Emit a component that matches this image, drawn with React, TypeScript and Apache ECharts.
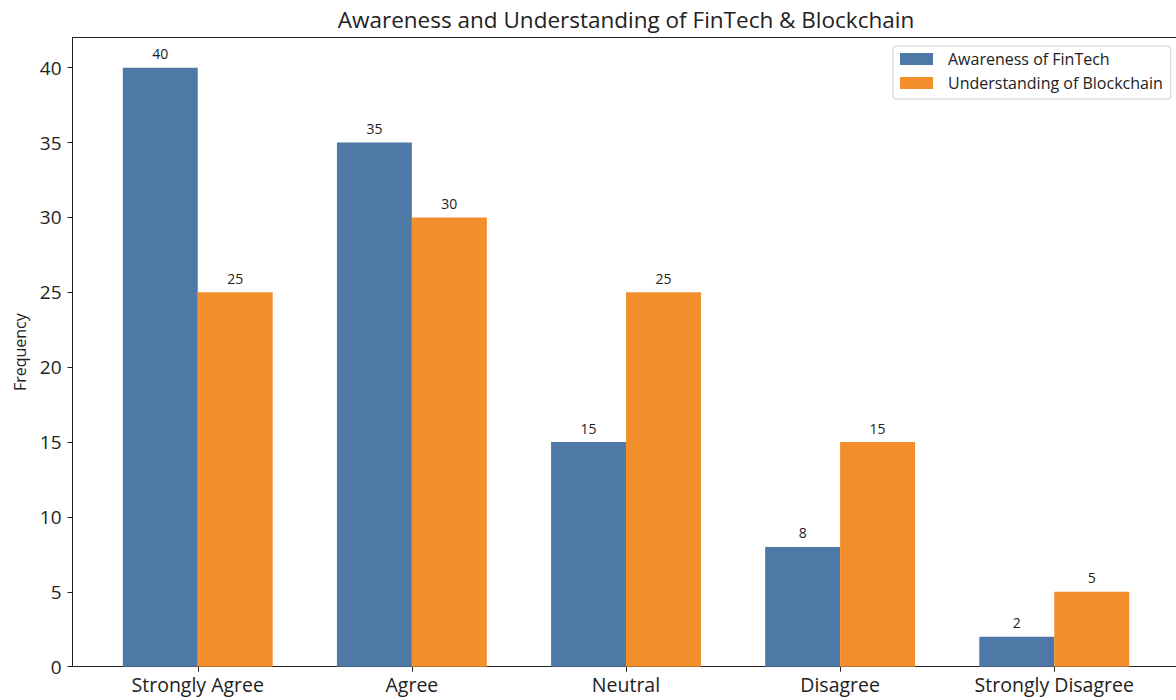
import React, { useEffect, useRef } from "react";
import * as echarts from "echarts";

const categories = ["Strongly Agree", "Agree", "Neutral", "Disagree", "Strongly Disagree"];
const awarenessFinTech = [40, 35, 15, 8, 2];
const understandingBlockchain = [25, 30, 25, 15, 5];
const yTicks = [0, 5, 10, 15, 20, 25, 30, 35, 40];
const xPositions = [0, 1, 2, 3, 4];

const FONT = "'Open Sans', sans-serif";
const BLUE = "#4e79a7";
const ORANGE = "#f28e2b";

export default function App() {
  const ref = useRef<HTMLDivElement>(null);
  useEffect(() => {
    if (!ref.current) return;
    const chart = echarts.init(ref.current, undefined, { renderer: "svg" });
    const labelStyle = {
      show: true,
      position: "top" as const,
      distance: 7,
      color: "#222",
      fontSize: 14,
      fontFamily: FONT,
    };
    chart.setOption({
      animation: false,
      textStyle: { fontFamily: FONT },
      graphic: [
        {
          type: "text",
          x: 626,
          y: 19,
          style: {
            text: "Awareness and Understanding of FinTech & Blockchain",
            textAlign: "center",
            textVerticalAlign: "middle",
            fontSize: 22.5,
            fill: "#222",
            fontFamily: FONT,
          },
        },
      ],
      legend: {
        left: 893,
        top: 46,
        orient: "vertical",
        itemWidth: 33,
        itemHeight: 12,
        itemGap: 8,
        padding: [5, 8, 8, 7],
        borderColor: "#d0d0d0",
        borderWidth: 1,
        borderRadius: 3,
        backgroundColor: "#fff",
        icon: "rect",
        textStyle: { fontSize: 16, lineHeight: 16, color: "#222", fontFamily: FONT, padding: [0, 0, 0, 10] },
        data: ["Awareness of FinTech", "Understanding of Blockchain"],
      },
      grid: {
        left: 72.5,
        width: 1107,
        top: 37.7,
        bottom: 33.3,
        containLabel: false,
        outerBoundsMode: "none",
      },
      xAxis: [
        {
          type: "value",
          min: -0.585,
          max: 4.585,
          splitLine: { show: false },
          axisLine: { show: true, onZero: false, lineStyle: { color: "#222", width: 1 } },
          axisTick: { show: true, length: 5, customValues: xPositions, lineStyle: { color: "#222" } },
          axisLabel: {
            customValues: xPositions,
            formatter: (v: number) => categories[Math.round(v)] ?? "",
            fontSize: 19.5,
            color: "#222",
            margin: 8,
            fontFamily: FONT,
          },
        },
        {
          type: "value",
          position: "top",
          min: -0.585,
          max: 4.585,
          splitLine: { show: false },
          axisLine: { show: true, onZero: false, lineStyle: { color: "#222", width: 1 } },
          axisTick: { show: false },
          axisLabel: { show: false },
        },
      ],
      yAxis: {
        type: "value",
        min: 0,
        max: 42,
        interval: 5,
        name: "Frequency",
        nameLocation: "middle",
        nameGap: 45,
        nameTextStyle: { fontSize: 16, color: "#222", fontFamily: FONT },
        splitLine: { show: false },
        axisLine: { show: true, onZero: false, lineStyle: { color: "#222", width: 1 } },
        axisTick: { show: true, length: 5, customValues: yTicks, lineStyle: { color: "#222" } },
        axisLabel: { customValues: yTicks, fontSize: 19, color: "#222", margin: 11, fontFamily: FONT },
      },
      series: [
        {
          name: "Awareness of FinTech",
          type: "bar",
          barWidth: "35%",
          barGap: "0%",
          itemStyle: { color: BLUE },
          label: labelStyle,
          data: xPositions.map((x, i) => [x, awarenessFinTech[i]]),
        },
        {
          name: "Understanding of Blockchain",
          type: "bar",
          barWidth: "35%",
          barGap: "0%",
          itemStyle: { color: ORANGE },
          label: labelStyle,
          data: xPositions.map((x, i) => [x, understandingBlockchain[i]]),
        },
      ],
    });
    return () => chart.dispose();
  }, []);
  return <div ref={ref} style={{ width: 1176, height: 700, position: "absolute", left: 0, top: 0 }} />;
}
